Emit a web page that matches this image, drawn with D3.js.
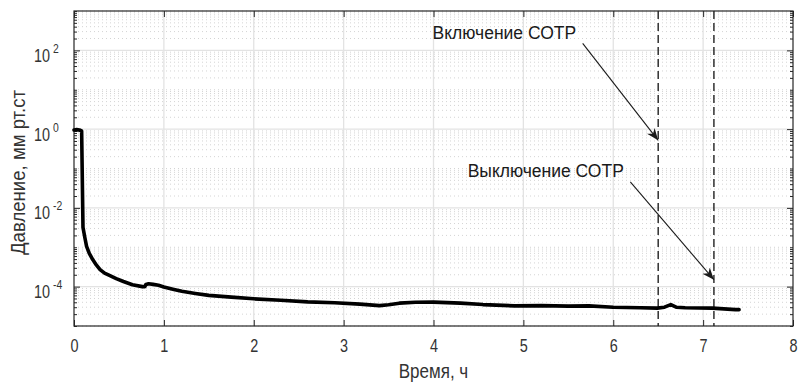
<!DOCTYPE html>
<html>
<head>
<meta charset="utf-8">
<script src="https://cdn.jsdelivr.net/npm/d3@7"></script>
<style>
  body { margin: 0; background: #fff; }
  svg { display: block; }
  .lbl { font-family: 'Liberation Sans', Arial, sans-serif; fill: #333; }
</style>
</head>
<body>
<div id="viz"></div>
<script>
'use strict';

// time, h
const times = [
  0, 0.03, 0.06, 0.085, 0.1, 0.12, 0.14, 0.17, 0.21, 0.25, 0.29, 0.34, 0.4,
  0.47, 0.55, 0.65, 0.76, 0.79, 0.8, 0.83, 0.88, 0.94, 1.0, 1.1, 1.2, 1.35,
  1.5, 1.75, 2.0, 2.3, 2.6, 2.9, 3.18, 3.4, 3.5, 3.62, 3.8, 4.0, 4.3, 4.55,
  4.9, 5.2, 5.5, 5.73, 6.0, 6.3, 6.49, 6.57, 6.64, 6.7, 6.8, 7.1, 7.36, 7.4
];
// pressure, mm Hg
const pressures = [
  0.95, 0.97, 0.95, 0.9, 3.2e-3, 1.8e-3, 1.05e-3, 7e-4, 4.8e-4, 3.5e-4, 2.7e-4,
  2.2e-4, 1.9e-4, 1.6e-4, 1.35e-4, 1.12e-4, 1.0e-4, 1.0e-4, 1.13e-4, 1.18e-4,
  1.14e-4, 1.08e-4, 9.8e-5, 8.6e-5, 7.6e-5, 6.7e-5, 6.0e-5, 5.4e-5, 4.9e-5,
  4.5e-5, 4.1e-5, 3.9e-5, 3.6e-5, 3.3e-5, 3.45e-5, 3.8e-5, 4.0e-5, 4.05e-5,
  3.8e-5, 3.5e-5, 3.25e-5, 3.3e-5, 3.2e-5, 3.25e-5, 3.0e-5, 2.9e-5, 2.85e-5,
  3.0e-5, 3.5e-5, 3.0e-5, 2.9e-5, 2.85e-5, 2.6e-5, 2.6e-5
];

const xTicks = [0, 1, 2, 3, 4, 5, 6, 7, 8];
const yMajor = [1e-4, 1e-2, 1, 1e2];
const yExponents = ['-4', '-2', '0', '2'];

// events (vertical dashed lines), h
const eventTimes = [6.5, 7.12];

// annotations: label position and arrow tail/head in data coords
const noteLabels = ['Включение СОТР', 'Выключение СОТР'];
const noteText = [[3.99, 190], [4.38, 0.06]];
const noteTail = [[5.66, 150], [6.19, 0.046]];
const noteHead = [[6.5, 0.52], [7.12, 1.5e-4]];

const data = times.map((t, i) => ({t, p: pressures[i]}));

const W = 800, H = 383;
const margin = {top: 11, right: 7, bottom: 57, left: 74};
const width = W - margin.left - margin.right;
const height = H - margin.top - margin.bottom;

const svg = d3.select('#viz')
  .append('svg')
    .attr('width', W)
    .attr('height', H);

const g = svg.append('g')
  .attr('transform', `translate(${margin.left},${margin.top})`);

const x = d3.scaleLinear().domain([0, 8]).range([0, width]);
const y = d3.scaleLog().domain([1e-5, 1e3]).range([height, 0]);

const yAll = y.ticks();
const yMinor = yAll.filter(v => !yMajor.some(m => Math.abs(m - v) / m < 1e-9));

// squeeze text horizontally (reference uses a narrow face)
function condense(sel, k) {
  sel.each(function() {
    const len = this.getComputedTextLength();
    d3.select(this)
      .attr('textLength', len * k)
      .attr('lengthAdjust', 'spacingAndGlyphs');
  });
}

// minor grid (dotted)
g.append('g')
  .selectAll('line')
  .data(yMinor)
  .join('line')
    .attr('x1', 0).attr('x2', width)
    .attr('y1', d => y(d)).attr('y2', d => y(d))
    .attr('stroke', '#d4d4d4')
    .attr('stroke-width', 1)
    .attr('stroke-dasharray', '1,3');

// major grid
g.append('g')
  .selectAll('line')
  .data(yMajor)
  .join('line')
    .attr('x1', 0).attr('x2', width)
    .attr('y1', d => y(d)).attr('y2', d => y(d))
    .attr('stroke', '#e3e3e3')
    .attr('stroke-width', 1.3);

g.append('g')
  .selectAll('line')
  .data(xTicks.slice(1, -1))
  .join('line')
    .attr('x1', d => x(d)).attr('x2', d => x(d))
    .attr('y1', 0).attr('y2', height)
    .attr('stroke', '#e3e3e3')
    .attr('stroke-width', 1.3);

// axes with inward ticks
const axisColor = '#262626';
function styleAxis(sel) {
  sel.select('.domain').remove();
  sel.selectAll('.tick line').attr('stroke', axisColor);
}

g.append('g')
  .attr('transform', `translate(0,${height})`)
  .call(d3.axisBottom(x).tickValues(xTicks).tickSize(-6).tickPadding(13)
    .tickFormat(d3.format('d')))
  .call(styleAxis)
  .call(s => s.selectAll('text')
    .attr('class', 'lbl')
    .attr('font-size', 19)
    .call(condense, 0.76));

g.append('g')
  .call(d3.axisTop(x).tickValues(xTicks).tickSize(-6).tickFormat(''))
  .call(styleAxis);

const yLeft = g.append('g')
  .call(d3.axisLeft(y).tickValues(yMajor).tickSize(-6).tickPadding(16).tickFormat(''))
  .call(styleAxis);

g.append('g')
  .call(d3.axisLeft(y).tickValues(yMinor).tickSize(-3).tickFormat(''))
  .call(styleAxis);

g.append('g')
  .attr('transform', `translate(${width},0)`)
  .call(d3.axisRight(y).tickValues(yMajor).tickSize(-6).tickFormat(''))
  .call(styleAxis);

g.append('g')
  .attr('transform', `translate(${width},0)`)
  .call(d3.axisRight(y).tickValues(yMinor).tickSize(-3).tickFormat(''))
  .call(styleAxis);

// y tick labels: 10^n, mantissa and exponent drawn as separate texts
yLeft.selectAll('.tick').each(function(d, i) {
  const tick = d3.select(this);
  tick.select('text').remove();
  tick.append('text')
    .attr('class', 'lbl')
    .attr('x', -24)
    .attr('y', 11)
    .attr('text-anchor', 'end')
    .attr('font-size', 18)
    .text('10')
    .call(condense, 0.8);
  tick.append('text')
    .attr('class', 'lbl')
    .attr('x', -21)
    .attr('y', 2)
    .attr('text-anchor', 'start')
    .attr('font-size', 13)
    .text(yExponents[i])
    .call(condense, 0.8);
});

// box
g.append('rect')
  .attr('width', width)
  .attr('height', height)
  .attr('fill', 'none')
  .attr('stroke', axisColor)
  .attr('stroke-width', 1.2);

// event markers
g.append('g')
  .selectAll('line')
  .data(eventTimes)
  .join('line')
    .attr('x1', d => x(d)).attr('x2', d => x(d))
    .attr('y1', 0).attr('y2', height)
    .attr('stroke', '#222')
    .attr('stroke-width', 1.4)
    .attr('stroke-dasharray', '8,4');

// pressure curve
g.append('path')
  .datum(data)
  .attr('fill', 'none')
  .attr('stroke', '#000')
  .attr('stroke-width', 3.6)
  .attr('stroke-linejoin', 'round')
  .attr('stroke-linecap', 'round')
  .attr('d', d3.line()
    .x(d => x(d.t))
    .y(d => y(d.p)));

// annotations
svg.append('defs')
  .append('marker')
    .attr('id', 'arrow')
    .attr('viewBox', '0 0 10 10')
    .attr('refX', 10).attr('refY', 5)
    .attr('markerWidth', 12).attr('markerHeight', 12)
    .attr('markerUnits', 'userSpaceOnUse')
    .attr('orient', 'auto')
  .append('path')
    .attr('d', 'M0,1 L10,5 L0,9 L3,5 Z')
    .attr('fill', '#1a1a1a');

noteLabels.forEach((label, i) => {
  g.append('line')
    .attr('x1', x(noteTail[i][0])).attr('y1', y(noteTail[i][1]))
    .attr('x2', x(noteHead[i][0])).attr('y2', y(noteHead[i][1]))
    .attr('stroke', '#1a1a1a')
    .attr('stroke-width', 1.1)
    .attr('marker-end', 'url(#arrow)');

  g.append('text')
    .attr('x', x(noteText[i][0]))
    .attr('y', y(noteText[i][1]))
    .attr('font-family', "'Liberation Sans', Arial, sans-serif")
    .attr('font-size', 17.5)
    .attr('fill', '#1a1a1a')
    .text(label);
});

// axis labels
svg.append('text')
  .attr('class', 'lbl')
  .attr('x', margin.left + width / 2)
  .attr('y', 378)
  .attr('text-anchor', 'middle')
  .attr('font-size', 20)
  .text('Время, ч')
  .call(condense, 0.85);

svg.append('text')
  .attr('class', 'lbl')
  .attr('transform', `translate(25,${margin.top + height / 2 + 4}) rotate(-90)`)
  .attr('text-anchor', 'middle')
  .attr('font-size', 20)
  .text('Давление, мм рт.ст')
  .call(condense, 0.93);
</script>
</body>
</html>
